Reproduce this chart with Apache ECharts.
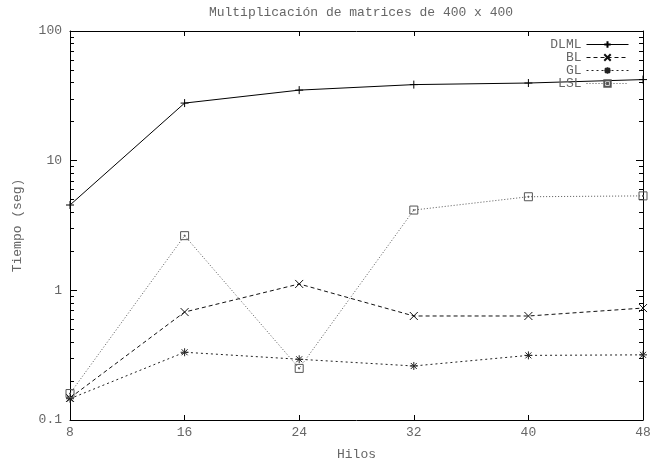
<!DOCTYPE html>
<html>
<head>
<meta charset="utf-8">
<script src="https://cdn.jsdelivr.net/npm/echarts@6/dist/echarts.min.js"></script>
<style>
  html, body { margin: 0; padding: 0; background: #fff; }
  #chart { width: 652px; height: 461px; }
</style>
</head>
<body>
<div id="chart"></div>
<script>
// Threads (x axis) and measured times in seconds (log y axis)
var hilos = [8, 16, 24, 32, 40, 48];
var dlml = [4.55, 27.8, 35.0, 38.6, 39.7, 42.2];
var bl   = [0.148, 0.68, 1.12, 0.634, 0.634, 0.73];
var gl   = [0.146, 0.333, 0.294, 0.261, 0.315, 0.318];
var lsl  = [0.16, 2.64, 0.25, 4.16, 5.27, 5.35];

var xTicks = [8, 16, 24, 32, 40, 48];
var yMajor = [0.1, 1, 10, 100];
var yMinor = [0.2, 0.3, 0.4, 0.5, 0.6, 0.7, 0.8, 0.9,
              2, 3, 4, 5, 6, 7, 8, 9,
              20, 30, 40, 50, 60, 70, 80, 90];

var FONT = '"Liberation Mono", "DejaVu Sans Mono", monospace';
var TXT = '#666';

function pairs(vals) {
  return hilos.map(function (h, i) { return [h, vals[i]]; });
}

// gnuplot-style point shapes
var SYM_PLUS = 'path://M0,4H8M4,0V8';
var SYM_CROSS = 'path://M0,0L8,8M8,0L0,8';
var SYM_STAR = 'path://M0,4H8M4,0V8M1,1L7,7M7,1L1,7';
var SYM_BOX = 'path://M0,0H8V8H0ZM3.5,3.5H4.5V4.5H3.5Z';

function series(name, vals, color, dash, sym) {
  return {
    name: name,
    type: 'line',
    xAxisIndex: 0,
    yAxisIndex: 0,
    data: pairs(vals),
    symbol: sym,
    symbolSize: 8,
    showAllSymbol: true,
    lineStyle: { color: color, width: 1, type: dash },
    itemStyle: { color: 'none', borderColor: color, borderWidth: 1 },
    emphasis: { disabled: true },
    animation: false
  };
}

function yAxisBase(extra) {
  var a = {
    type: 'log',
    logBase: 10,
    min: 0.1,
    max: 100,
    axisLine: { show: false },
    splitLine: { show: false },
    axisLabel: { show: false },
    axisTick: { show: false }
  };
  for (var k in extra) a[k] = extra[k];
  return a;
}

function tickLine() { return { color: '#000', width: 1 }; }

var chart = echarts.init(document.getElementById('chart'), null, { renderer: 'canvas' });
chart.setOption({
  backgroundColor: '#fff',
  animation: false,
  title: {
    text: 'Multiplicación de matrices de 400 x 400',
    left: 356,
    top: 1,
    textAlign: 'center',
    textStyle: { fontFamily: FONT, fontSize: 13, fontWeight: 'normal', color: TXT }
  },
  legend: {
    orient: 'vertical',
    right: 18,
    top: 33,
    align: 'right',
    itemWidth: 42,
    itemHeight: 8,
    itemGap: 0,
    selectedMode: false,
    lineStyle: { width: 1 },
    textStyle: { fontFamily: FONT, fontSize: 13, color: TXT, lineHeight: 12 },
    data: ['DLML', 'BL', 'GL', 'LSL']
  },
  grid: { left: 70, right: 9, top: 31, bottom: 41, containLabel: false, outerBoundsMode: 'none' },
  xAxis: [
    {
      type: 'value',
      min: 8,
      max: 48,
      interval: 8,
      name: 'Hilos',
      nameLocation: 'middle',
      nameGap: 28,
      nameTextStyle: { fontFamily: FONT, fontSize: 13, color: TXT },
      axisLine: { show: true, onZero: false, lineStyle: { color: '#000', width: 1 } },
      axisTick: { show: true, inside: true, length: 5, lineStyle: tickLine() },
      axisLabel: { fontFamily: FONT, fontSize: 13, color: TXT, margin: 6,
                   customValues: xTicks },
      splitLine: { show: false }
    },
    {
      type: 'value',
      position: 'top',
      min: 8,
      max: 48,
      interval: 8,
      axisLine: { show: true, onZero: false, lineStyle: { color: '#000', width: 1 } },
      axisTick: { show: true, inside: true, length: 5, lineStyle: tickLine() },
      axisLabel: { show: false },
      splitLine: { show: false }
    }
  ],
  yAxis: [
    yAxisBase({
      name: 'Tiempo (seg)',
      nameLocation: 'middle',
      nameGap: 46,
      nameTextStyle: { fontFamily: FONT, fontSize: 13, color: TXT },
      axisLine: { show: true, onZero: false, lineStyle: { color: '#000', width: 1 } },
      axisTick: { show: true, inside: true, length: 7, lineStyle: tickLine(),
                  customValues: yMajor },
      axisLabel: { show: true, fontFamily: FONT, fontSize: 13, color: TXT, margin: 8,
                   customValues: yMajor,
                   formatter: function (v) { return String(+v.toPrecision(3)); } }
    }),
    yAxisBase({
      position: 'right',
      axisLine: { show: true, onZero: false, lineStyle: { color: '#000', width: 1 } },
      axisTick: { show: true, inside: true, length: 7, lineStyle: tickLine(),
                  customValues: yMajor }
    }),
    yAxisBase({
      position: 'left',
      axisTick: { show: true, inside: true, length: 4, lineStyle: tickLine(),
                  customValues: yMinor }
    }),
    yAxisBase({
      position: 'right',
      axisTick: { show: true, inside: true, length: 4, lineStyle: tickLine(),
                  customValues: yMinor }
    })
  ],
  series: [
    series('DLML', dlml, '#000', 'solid', SYM_PLUS),
    series('BL', bl, '#111', [4, 3], SYM_CROSS),
    series('GL', gl, '#222', [2, 3], SYM_STAR),
    series('LSL', lsl, '#555', [1, 2], SYM_BOX)
  ]
});
</script>
</body>
</html>
